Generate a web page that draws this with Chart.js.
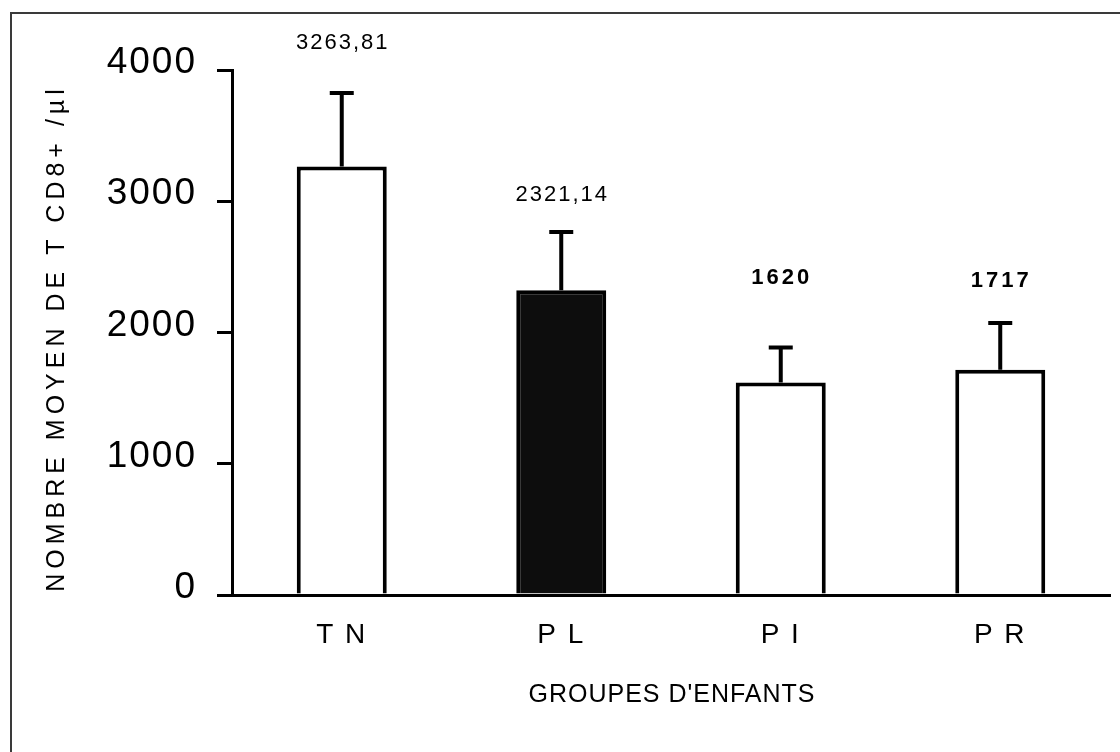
<!DOCTYPE html>
<html>
<head>
<meta charset="utf-8">
<title>Nombre moyen de T CD8+</title>
<script src="https://cdn.jsdelivr.net/npm/chart.js@4"></script>
<style>
  html, body { margin: 0; padding: 0; background: #fff; }
  canvas { display: block; }
</style>
</head>
<body>
<canvas id="cd8Chart" width="1120" height="752"></canvas>
<script>
// Data
const groups = ['T N', 'P L', 'P I', 'P R'];
const means = [3263.81, 2321.14, 1620, 1717];
const errors = [560, 445, 265, 355];
const valueLabels = ['3263,81', '2321,14', '1620', '1717'];
const yTicks = [0, 1000, 2000, 3000, 4000];

// Styles
const barColors = ['#ffffff', '#0d0d0d', '#ffffff', '#ffffff'];
const labelGap = [50, 37, 70, 42];      // px above the error bar cap
const labelBold = [false, false, true, true];
const FONT = 'Arial, "Liberation Sans", Helvetica, sans-serif';

// Scanned page frame (top and left edge only)
const framePlugin = {
  id: 'frame',
  beforeDraw(chart) {
    const ctx = chart.ctx;
    ctx.fillStyle = '#fff';
    ctx.fillRect(0, 0, chart.width, chart.height);
    ctx.save();
    ctx.strokeStyle = '#3a3a3a';
    ctx.lineWidth = 2;
    ctx.beginPath();
    ctx.moveTo(11, 752);
    ctx.lineTo(11, 13);
    ctx.lineTo(1120, 13);
    ctx.stroke();
    ctx.restore();
    // spacing used by the tick labels
    ctx.letterSpacing = '2px';
  }
};

const errorBarPlugin = {
  id: 'errorBars',
  afterDatasetsDraw(chart) {
    const ctx = chart.ctx;
    const y = chart.scales.y;
    const meta = chart.getDatasetMeta(0);
    ctx.save();
    ctx.strokeStyle = '#000';
    ctx.lineWidth = 4;
    meta.data.forEach((bar, i) => {
      const top = y.getPixelForValue(means[i] + errors[i]);
      ctx.beginPath();
      ctx.moveTo(bar.x, bar.y);
      ctx.lineTo(bar.x, top);
      ctx.moveTo(bar.x - 12, top);
      ctx.lineTo(bar.x + 12, top);
      ctx.stroke();

      ctx.fillStyle = '#000';
      ctx.textAlign = 'center';
      ctx.textBaseline = 'middle';
      if (labelBold[i]) {
        ctx.font = 'bold 22px ' + FONT;
        ctx.letterSpacing = '3px';
      } else {
        ctx.font = '22px ' + FONT;
        ctx.letterSpacing = '2px';
      }
      ctx.fillText(valueLabels[i], bar.x + 1, top - labelGap[i]);
    });
    ctx.restore();
  }
};

const axisTitlePlugin = {
  id: 'axisTitles',
  afterDraw(chart) {
    const ctx = chart.ctx;
    ctx.save();
    ctx.fillStyle = '#000';
    ctx.textAlign = 'center';
    ctx.textBaseline = 'middle';
    ctx.font = '25px ' + FONT;
    ctx.letterSpacing = '1px';
    ctx.fillText("GROUPES D'ENFANTS", 672, 695);

    ctx.translate(57, 338);
    ctx.rotate(-Math.PI / 2);
    ctx.font = '25px ' + FONT;
    ctx.letterSpacing = '5px';
    ctx.fillText('NOMBRE MOYEN DE T CD8+ /µl', 0, 0);
    ctx.restore();
  }
};

const ctx = document.getElementById('cd8Chart').getContext('2d');
const chart = new Chart(ctx, {
  type: 'bar',
  data: {
    labels: groups,
    datasets: [{
      data: means,
      backgroundColor: barColors,
      borderColor: '#000',
      borderWidth: 4,
      barPercentage: 0.41,
      categoryPercentage: 1
    }]
  },
  options: {
    responsive: false,
    animation: false,
    devicePixelRatio: 1,
    layout: { autoPadding: false, padding: { top: 70, right: 10, left: 0, bottom: 0 } },
    plugins: {
      legend: { display: false },
      tooltip: { enabled: false }
    },
    scales: {
      x: {
        grid: { display: false, drawTicks: false },
        border: { display: true, color: '#000', width: 3 },
        ticks: { color: '#000', font: { family: FONT, size: 28 }, padding: 23 },
        afterFit: scale => { scale.height = 157; }
      },
      y: {
        min: 0,
        max: 4000,
        afterBuildTicks: scale => { scale.ticks = yTicks.map(v => ({ value: v })); },
        grid: { drawOnChartArea: false, drawTicks: true, tickLength: 15, color: '#000', lineWidth: 3 },
        border: { display: true, color: '#000', width: 3 },
        ticks: {
          color: '#000',
          font: { family: FONT, size: 37 },
          padding: 20,
          labelOffset: -7,
          callback: v => String(v)
        },
        afterFit: scale => { scale.width = 232; }
      }
    }
  },
  plugins: [framePlugin, errorBarPlugin, axisTitlePlugin]
});
</script>
</body>
</html>
